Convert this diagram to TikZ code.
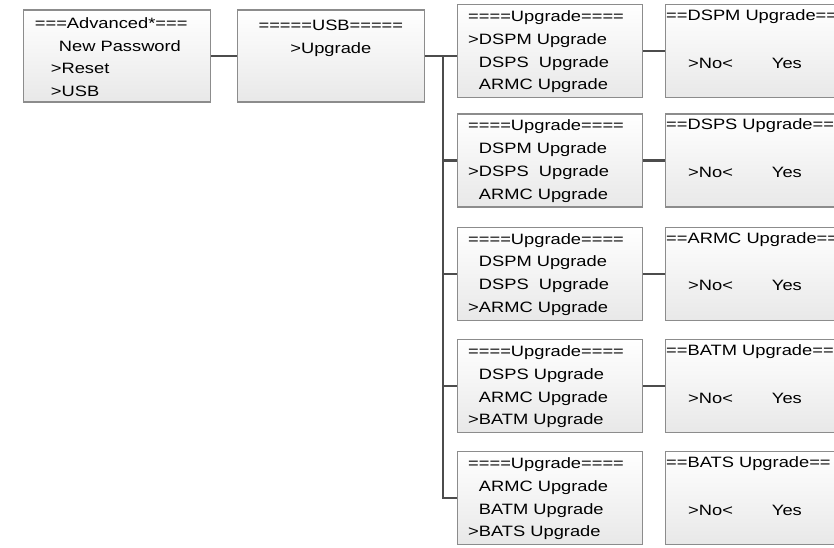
\documentclass[tikz,border=0pt]{standalone}
\usepackage{fontspec}
\setmainfont{Liberation Sans}[FakeStretch=1.22]
\usetikzlibrary{positioning}

\newcommand{\unsel}{\phantom{>}}

\tikzset{
  menubox/.style={draw=black!45, line width=1.3pt, top color=white, bottom color=black!9,
                  minimum width=187pt, minimum height=92pt, anchor=north west, inner sep=0pt},
  optbox/.style={menubox, minimum width=185pt, minimum height=93pt},
  menutext/.style={anchor=north west, inner sep=0pt, align=left,
                   font=\fontsize{15}{22.8}\selectfont},
  link/.style={draw=black!70, line width=2.2pt},
}

\begin{document}
\begin{tikzpicture}[x=1pt,y=-1pt]
\useasboundingbox (0,0) rectangle (834,547);
\clip (0,0) rectangle (834,547);

% Advanced menu and USB menu
\node[menubox] (adv) at (22.7,9.3) {};
\node[menutext, below right=8pt and 12pt of adv.north west] (advtxt)
  {===Advanced*===\\\hspace*{24pt}New Password\\\hspace*{16pt}>Reset\\\hspace*{16pt}>USB};
\node[menubox] (usb) at (236.7,9.3) {};
\node[menutext, align=center, below=10.4pt of usb.north] (usbtxt) {=====USB=====\\>Upgrade};

% Upgrade screens and their confirm screens
\foreach \i/\top/\sa/\sb/\sc/\ctitle in {
    1/4/>DSPM Upgrade/\unsel DSPS~ Upgrade/\unsel ARMC Upgrade/DSPM,
    2/113.3/\unsel DSPM Upgrade/>DSPS~ Upgrade/\unsel ARMC Upgrade/DSPS,
    3/226.5/\unsel DSPM Upgrade/\unsel DSPS~ Upgrade/>ARMC Upgrade/ARMC,
    4/339/\unsel DSPS Upgrade/\unsel ARMC Upgrade/>BATM Upgrade/BATM,
    5/451/\unsel ARMC Upgrade/\unsel BATM Upgrade/>BATS Upgrade/BATS} {
  \node[optbox] (up\i) at (457,\top) {};
  \node[menutext, below right=6.5pt and 11pt of up\i.north west] (uptxt\i)
    {====Upgrade====\\\sa\\\sb\\\sc};
  \node[optbox] (conf\i) at (665,\top) {};
  \node[menutext, below right=5.5pt and 1pt of conf\i.north west] (conftxt\i)
    {==\ctitle{} Upgrade==};
  \node[menutext, below right=53.8pt and 23pt of conf\i.north west] (confsel\i)
    {>No<\hspace{39pt}Yes};
}

% Connectors
\coordinate[right=18pt of usb.east] (bus);
\draw[link] (adv.east) -- (usb.west);
\draw[link] (usb.east) -- (usb.east -| up1.west);
\draw[link] (bus) |- (up5.west);
\foreach \i in {2,3,4}
  \draw[link] (bus |- up\i.west) -- (up\i.west);
\foreach \i in {1,...,4}
  \draw[link] (up\i.east) -- (conf\i.west);
\end{tikzpicture}
\end{document}
